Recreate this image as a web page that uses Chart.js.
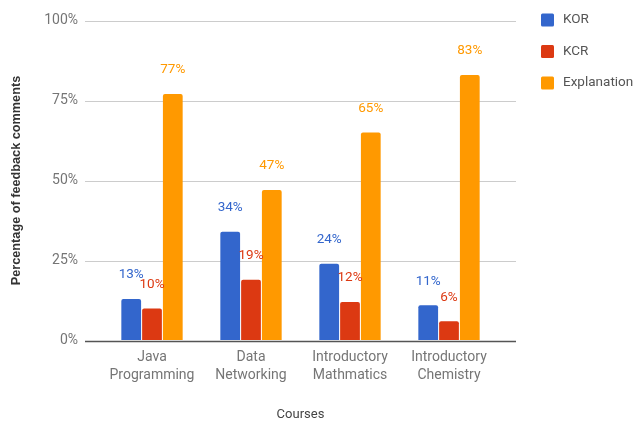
<!DOCTYPE html>
<html>
<head>
<meta charset="utf-8">
<script src="https://cdn.jsdelivr.net/npm/chart.js@4/dist/chart.umd.min.js"></script>
<style>
  html, body { margin: 0; padding: 0; background: #fff; }
  #wrap { width: 636px; height: 423px; }
</style>
</head>
<body>
<div id="wrap"><canvas id="grafico"></canvas></div>
<script>
// Dados do grafico
const cursos = [['Java', 'Programming'], ['Data', 'Networking'], ['Introductory', 'Mathmatics'], ['Introductory', 'Chemistry']];
const kor = [13, 34, 24, 11];
const kcr = [10, 19, 12, 6];
const explicacao = [77, 47, 65, 83];
const nomesSeries = ['KOR', 'KCR', 'Explanation'];
const coresSeries = ['#3366cc', '#dc3912', '#ff9900'];
const ticksY = [0, 25, 50, 75, 100];

const fonte = 'Roboto, "Noto Sans", sans-serif';

// Linhas de grade horizontais (mais largas que a area do grafico)
const gradePlugin = {
  id: 'grade',
  beforeDatasetsDraw(chart) {
    const ctx = chart.ctx;
    const y = chart.scales.y;
    ctx.save();
    ticksY.forEach(t => {
      const py = Math.round(y.getPixelForValue(t)) + 0.5;
      ctx.strokeStyle = t === 0 ? '#555555' : '#cccccc';
      ctx.lineWidth = t === 0 ? 1.5 : 1;
      ctx.beginPath();
      ctx.moveTo(85, py);
      ctx.lineTo(516, py);
      ctx.stroke();
    });
    ctx.restore();
  }
};

// Rotulos de valores acima das barras
const rotulosPlugin = {
  id: 'rotulos',
  afterDatasetsDraw(chart) {
    const ctx = chart.ctx;
    ctx.save();
    ctx.font = '13.5px ' + fonte;
    ctx.textAlign = 'center';
    ctx.textBaseline = 'middle';
    chart.data.datasets.forEach((ds, i) => {
      const meta = chart.getDatasetMeta(i);
      ctx.fillStyle = ds.backgroundColor;
      meta.data.forEach((bar, j) => {
        ctx.fillText(ds.data[j] + '%', bar.x, bar.y - 24);
      });
    });
    ctx.restore();
  }
};

// Legenda desenhada a direita
const legendaPlugin = {
  id: 'legenda',
  afterDraw(chart) {
    const ctx = chart.ctx;
    ctx.save();
    ctx.font = '13.5px ' + fonte;
    ctx.textBaseline = 'middle';
    chart.data.datasets.forEach((ds, i) => {
      const cy = 20 + i * 31.5;
      ctx.fillStyle = ds.backgroundColor;
      ctx.beginPath();
      ctx.roundRect(541, cy - 6.5, 13, 13, 1.5);
      ctx.fill();
      ctx.fillStyle = '#555555';
      ctx.fillText(ds.label, 563, cy);
    });
    ctx.restore();
  }
};

const seriesValores = [kor, kcr, explicacao];

new Chart(document.getElementById('grafico').getContext('2d'), {
  type: 'bar',
  data: {
    labels: cursos,
    datasets: seriesValores.map((valores, i) => ({
      label: nomesSeries[i],
      data: valores,
      backgroundColor: coresSeries[i],
      borderRadius: 2,
      borderSkipped: 'bottom',
      categoryPercentage: 0.63,
      barPercentage: 0.95
    }))
  },
  options: {
    responsive: true,
    maintainAspectRatio: false,
    animation: false,
    layout: {
      padding: { top: 20.5, right: 137.5, bottom: 0, left: 0 }
    },
    plugins: {
      legend: { display: false },
      tooltip: { enabled: false }
    },
    scales: {
      x: {
        afterFit(scale) {
          scale.height = 82.5;
        },
        grid: { display: false, drawTicks: false },
        border: { display: false },
        ticks: {
          color: '#757575',
          font: { family: fonte, size: 14, lineHeight: 18 / 14 },
          padding: 8,
          maxRotation: 0,
          autoSkip: false
        },
        title: {
          display: true,
          text: 'Courses',
          color: '#444444',
          font: { family: fonte, size: 13 },
          padding: { top: 21, bottom: 0 }
        }
      },
      y: {
        min: 0,
        max: 100,
        afterBuildTicks(scale) {
          scale.ticks = ticksY.map(v => ({ value: v }));
        },
        afterFit(scale) {
          scale.width = 102.5;
        },
        grid: {
          display: true,
          drawOnChartArea: false,
          drawTicks: true,
          tickLength: 20,
          tickColor: 'rgba(0,0,0,0)'
        },
        border: { display: false },
        ticks: {
          color: '#757575',
          font: { family: fonte, size: 14 },
          padding: 4.5,
          callback: v => v + '%'
        },
        title: {
          display: true,
          text: 'Percentage of feedback comments',
          color: '#333333',
          font: { family: '"Liberation Sans", Arial, sans-serif', size: 12.7, weight: 'bold' },
          padding: { top: 9, bottom: 0 }
        }
      }
    }
  },
  plugins: [gradePlugin, rotulosPlugin, legendaPlugin]
});
</script>
</body>
</html>
